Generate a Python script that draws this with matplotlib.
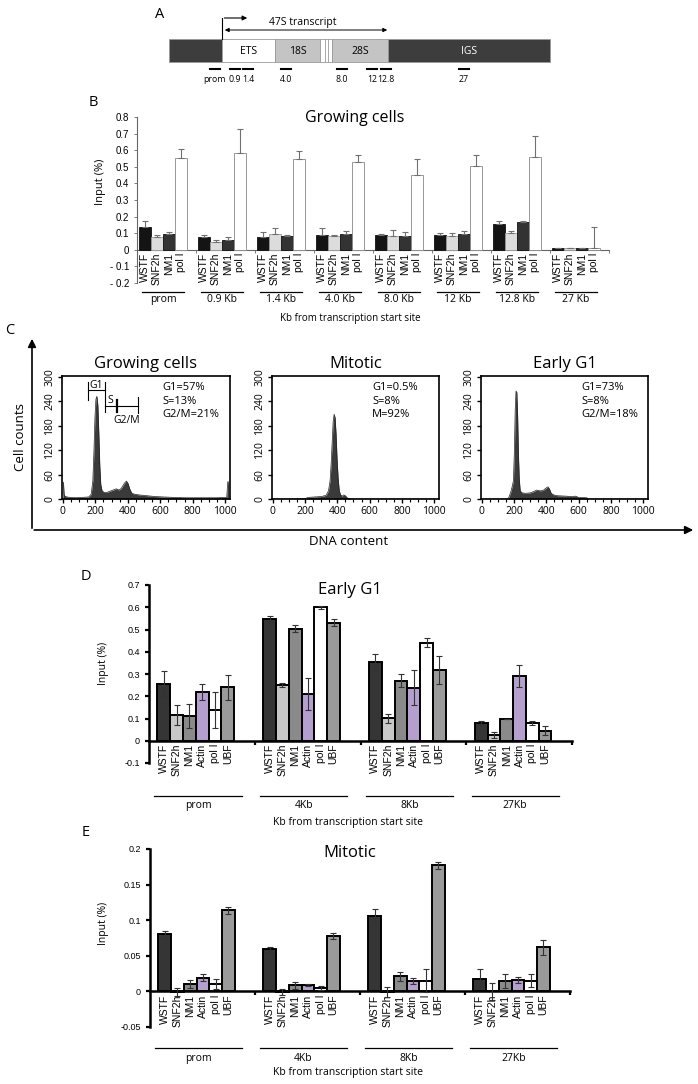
import numpy as np
import matplotlib
matplotlib.use("Agg")
import matplotlib.pyplot as plt
from matplotlib.patches import Rectangle
from matplotlib.ticker import MultipleLocator
from matplotlib.transforms import offset_copy

plt.rcParams['font.family'] = ['Open Sans', 'DejaVu Sans']
ARIAL = ['Liberation Sans', 'DejaVu Sans']

# ---------------- data ----------------
# A: rDNA repeat schematic (x in figure pixels)
rdna_names = ['', 'ETS', '18S', '', '28S', 'IGS']
rdna_starts = [169, 222, 275, 320, 332, 388]
rdna_ends = [222, 275, 320, 332, 388, 550]
rdna_fill = ['#3d3d3d', 'white', '#c4c4c4', 'white', '#c4c4c4', '#3d3d3d']
amp_names = ['prom', '0.9', '1.4', '4.0', '8.0', '12', '12.8', '27']
amp_pos = [215, 235, 248, 286, 342, 372, 386, 464]

# B: growing cells ChIP
b_groups = ['prom', '0.9 Kb', '1.4 Kb', '4.0 Kb', '8.0 Kb', '12 Kb', '12.8 Kb', '27 Kb']
b_names = ['WSTF', 'SNF2h', 'NM1', 'pol I']
b_wstf = [0.135, 0.075, 0.075, 0.087, 0.088, 0.088, 0.157, 0.012]
b_wstf_err = [0.04, 0.016, 0.032, 0.045, 0.006, 0.012, 0.016, 0.0]
b_snf2h = [0.076, 0.048, 0.095, 0.086, 0.084, 0.084, 0.100, 0.010]
b_snf2h_err = [0.012, 0.014, 0.037, 0.002, 0.034, 0.016, 0.012, 0.0]
b_nm1 = [0.096, 0.060, 0.084, 0.094, 0.084, 0.098, 0.165, 0.012]
b_nm1_err = [0.014, 0.018, 0.004, 0.020, 0.022, 0.014, 0.008, 0.0]
b_pol1 = [0.553, 0.586, 0.550, 0.528, 0.450, 0.502, 0.558, 0.012]
b_pol1_err = [0.052, 0.140, 0.043, 0.042, 0.096, 0.068, 0.127, 0.123]
b_yticklabels = ['- 0.2', '- 0.1', '0', '0.1', '0.2', '0.3', '0.4', '0.5', '0.6', '0.7', '0.8']

# C: FACS profiles (DNA content channel, cell counts)
grow_x = [0, 4, 8, 15, 40, 80, 120, 160, 175, 185, 192, 198, 204, 210, 216, 222, 228, 234, 242,
          255, 270, 290, 310, 330, 345, 360, 372, 382, 392, 402, 412, 425, 440, 470, 520, 570,
          620, 680, 750, 850, 950, 1010, 1016, 1022]
grow_y = [42, 40, 10, 6, 4, 3, 4, 5, 12, 45, 120, 200, 245, 252, 230, 160, 80, 35, 20,
          16, 16, 19, 22, 25, 22, 26, 34, 40, 44, 38, 25, 14, 12, 10, 8, 6,
          5, 4, 3, 3, 3, 4, 42, 42]
mit_x = [0, 100, 200, 220, 260, 300, 330, 345, 355, 362, 368, 374, 380, 386, 392, 398, 405,
         412, 420, 430, 440, 450, 460, 475, 500, 1024]
mit_y = [0, 0, 1, 4, 5, 6, 9, 20, 45, 90, 140, 190, 208, 200, 160, 100, 50,
         20, 10, 7, 10, 8, 3, 1, 0, 0]
eg1_x = [0, 150, 165, 178, 188, 196, 202, 207, 212, 217, 222, 227, 232, 238, 250, 270, 300,
         320, 340, 360, 380, 395, 410, 420, 430, 445, 470, 520, 560, 580, 600, 650, 665, 1024]
eg1_y = [0, 0, 2, 15, 30, 45, 120, 220, 265, 262, 205, 110, 50, 20, 15, 14, 15,
         18, 22, 20, 21, 26, 30, 24, 14, 10, 8, 7, 6, 7, 4, 3, 0, 0]
facs_titles = ['Growing cells', 'Mitotic', 'Early G1']
facs_stats = ['G1=57%\nS=13%\nG2/M=21%', 'G1=0.5%\nS=8%\nM=92%', 'G1=73%\nS=8%\nG2/M=18%']

# D / E: Early G1 and mitotic ChIP
de_groups = ['prom', '4Kb', '8Kb', '27Kb']
de_names = ['WSTF', 'SNF2h', 'NM1', 'Actin', 'pol I', 'UBF']
d_vals = [[0.255, 0.547, 0.356, 0.081],   # WSTF
          [0.116, 0.250, 0.102, 0.026],   # SNF2h
          [0.111, 0.504, 0.270, 0.099],   # NM1
          [0.220, 0.210, 0.239, 0.291],   # Actin
          [0.138, 0.599, 0.441, 0.080],   # pol I
          [0.240, 0.530, 0.317, 0.045]]   # UBF
d_errs = [[0.060, 0.013, 0.035, 0.010],
          [0.045, 0.010, 0.020, 0.012],
          [0.054, 0.016, 0.030, 0.0],
          [0.037, 0.070, 0.080, 0.048],
          [0.080, 0.007, 0.020, 0.010],
          [0.056, 0.015, 0.063, 0.020]]
e_vals = [[0.080, 0.059, 0.106, 0.017],
          [-0.001, -0.0005, -0.001, 0.0],
          [0.0098, 0.0089, 0.021, 0.015],
          [0.019, 0.0089, 0.015, 0.0164],
          [0.0098, 0.005, 0.015, 0.015],
          [0.114, 0.0776, 0.177, 0.0617]]
e_errs = [[0.005, 0.004, 0.010, 0.014],
          [0.006, 0.004, 0.007, 0.012],
          [0.0056, 0.005, 0.006, 0.010],
          [0.005, 0.002, 0.004, 0.004],
          [0.007, 0.003, 0.016, 0.009],
          [0.005, 0.004, 0.005, 0.010]]
d_yticklabels = ['-0.1', '0', '0.1', '0.2', '0.3', '0.4', '0.5', '0.6', '0.7']
e_yticklabels = ['-0.05', '0', '0.05', '0.1', '0.15', '0.2']

# ---------------- figure ----------------
W, H = 698, 1084
fig = plt.figure(figsize=(W / 100, H / 100), dpi=100)


def px_axes(l, t, r, b):
    return fig.add_axes([l / W, 1 - b / H, (r - l) / W, (b - t) / H])


def ft(x, y, s, **kw):
    fig.text(x / W, 1 - y / H, s, **kw)


# overlay in pixel coordinates for schematic / arrows
ov = fig.add_axes([0, 0, 1, 1])
ov.set_xlim(0, W)
ov.set_ylim(H, 0)
ov.axis('off')

# ---- A
for name, s, e, c in zip(rdna_names, rdna_starts, rdna_ends, rdna_fill):
    ov.add_patch(Rectangle((s, 39), e - s, 23, facecolor=c, edgecolor='#9a9a9a', lw=0.6))
    if name:
        ov.text((s + e) / 2, 51, name, ha='center', va='center', fontsize=7.5,
                color='white' if c == '#3d3d3d' else 'black')
ov.plot([325, 325], [39, 62], color='#9a9a9a', lw=0.6)
ov.plot([328, 328], [39, 62], color='#9a9a9a', lw=0.6)
ov.plot([222, 222], [39, 18], color='k', lw=0.8)
ov.annotate('', xy=(250, 18), xytext=(221.6, 18),
            arrowprops=dict(arrowstyle='-|>', color='k', lw=0.8, mutation_scale=7))
ov.annotate('', xy=(390, 30), xytext=(222, 30),
            arrowprops=dict(arrowstyle='<|-|>', color='k', lw=0.7, mutation_scale=6))
ov.text(303, 22, '47S transcript', ha='center', va='center', fontsize=7.5)
for name, p in zip(amp_names, amp_pos):
    ov.plot([p - 5, p + 5], [69, 69], color='k', lw=1.5)
    ov.text(p, 79, name, ha='center', va='center', fontsize=6.3)


def bar_panel(ax, groups, names, vals, errs, colors, edges, off, w, lw,
              ecolor, both, name_fs, line_dy, label_dy, line_pad, ngroups_x):
    n = len(groups)
    for j in range(len(names)):
        x = np.arange(n) + off + (j + 0.5) * w
        err = np.array(errs[j])
        yerr = err if both else [np.zeros(n), err]
        ax.bar(x, vals[j], width=w, color=colors[j], edgecolor=edges[j], linewidth=lw,
               yerr=yerr, error_kw=dict(ecolor=ecolor, elinewidth=0.8, capsize=2,
                                        capthick=0.8), zorder=3)
        for xi in x:
            ax.annotate(names[j], (xi, 0), xytext=(0, -3), textcoords='offset pixels',
                        rotation=90, ha='center', va='top', fontsize=name_fs,
                        family=ARIAL, annotation_clip=False)
    tr = offset_copy(ax.transData, fig=fig, y=-line_dy, units='dots')
    for i, g in enumerate(groups):
        x0 = i + off + line_pad[0]
        x1 = i + off + len(names) * w + line_pad[1]
        ax.plot([x0, x1], [0, 0], color='k', lw=0.9, transform=tr, clip_on=False)
        ax.annotate(g, ((x0 + x1) / 2, 0), xytext=(0, -label_dy), textcoords='offset pixels',
                    ha='center', va='center', fontsize=7.5, annotation_clip=False)
    ax.set_xlim(0, ngroups_x)
    ax.spines['top'].set_visible(False)
    ax.spines['right'].set_visible(False)
    ax.spines['bottom'].set_position(('data', 0))
    ax.set_xticks(np.arange(1, n + 1))
    ax.tick_params(axis='x', labelbottom=False, direction='out', length=3)
    ax.patch.set_alpha(0)


# ---- B
ax_b = px_axes(137, 117, 609, 283)
bar_panel(ax_b, b_groups, b_names,
          [b_wstf, b_snf2h, b_nm1, b_pol1], [b_wstf_err, b_snf2h_err, b_nm1_err, b_pol1_err],
          ['#141414', '#dcdcdc', '#333333', 'white'], ['#111', '#999', '#111', '#888'],
          0.03, 0.205, 0.6, '#707070', False, 7.5, 42, 50, (0.06, -0.06), 7.92)
ax_b.set_ylim(-0.2, 0.8)
ax_b.set_yticks(np.arange(-0.2, 0.81, 0.1))
ax_b.set_yticklabels(b_yticklabels, family=ARIAL, fontsize=7)
for sp in ['left', 'bottom']:
    ax_b.spines[sp].set_color('#666')
    ax_b.spines[sp].set_linewidth(0.8)
ax_b.tick_params(axis='both', colors='#666', length=2, width=0.6, labelcolor='k')
ft(355, 118, 'Growing cells', ha='center', va='center', fontsize=11.5)
ft(100, 182, 'Input (%)', ha='center', va='center', rotation=90, fontsize=8)
ft(350, 318, 'Kb from transcription start site', ha='center', va='center', fontsize=7)

# ---- C
facs_axes = [px_axes(62, 376, 230, 499), px_axes(272, 376, 439, 499), px_axes(481, 376, 648, 499)]
facs_data = [(grow_x, grow_y), (mit_x, mit_y), (eg1_x, eg1_y)]
for ax, (hx, hy), title, stats in zip(facs_axes, facs_data, facs_titles, facs_stats):
    ax.fill_between(hx, hy, color='#3a3a3a', lw=0)
    ax.plot(hx, hy, color='#222', lw=0.5)
    ax.set_xlim(-5, 1030)
    ax.set_ylim(0, 302)
    ax.set_xticks(np.arange(0, 1001, 200))
    ax.xaxis.set_minor_locator(MultipleLocator(50))
    ax.set_yticks(np.arange(0, 301, 60))
    ax.tick_params(axis='both', which='major', direction='out', length=3, width=1, labelsize=7.5, pad=2)
    ax.tick_params(axis='x', which='minor', direction='out', length=2, width=0.8)
    ax.tick_params(axis='y', labelrotation=90)
    for lab in ax.get_yticklabels():
        lab.set_va('center')
    for sp in ax.spines.values():
        sp.set_linewidth(1.2)
    ax.set_title(title, fontsize=12, pad=6)
    ax.text(615, 288, stats, ha='left', va='top', fontsize=8, linespacing=1.35)

# gates on the growing profile
g_ax = facs_axes[0]
g_ax.plot([155, 258], [267, 267], color='k', lw=0.8)
g_ax.plot([155, 155], [242, 287], color='k', lw=0.8)
g_ax.plot([258, 258], [242, 287], color='k', lw=0.8)
g_ax.text(207, 279, 'G1', ha='center', va='center', fontsize=7.5)
g_ax.plot([258, 462], [228, 228], color='k', lw=0.8)
g_ax.plot([258, 258], [214, 241], color='k', lw=0.8)
g_ax.plot([333, 333], [213, 243], color='k', lw=1.6)
g_ax.plot([462, 462], [212, 250], color='k', lw=0.8)
g_ax.text(293, 243, 'S', ha='center', va='center', fontsize=7.5)
g_ax.text(395, 192, 'G2/M', ha='center', va='center', fontsize=7.5)

ov.annotate('', xy=(32, 336), xytext=(32, 531),
            arrowprops=dict(arrowstyle='-|>', color='k', lw=1.2, mutation_scale=12))
ov.annotate('', xy=(696, 530), xytext=(31.4, 530),
            arrowprops=dict(arrowstyle='-|>', color='k', lw=1.2, mutation_scale=12))
ft(20, 437, 'Cell counts', ha='center', va='center', rotation=90, fontsize=9.5)
ft(349, 541, 'DNA content', ha='center', va='center', fontsize=9.5)

# ---- D / E
de_colors = ['#353535', '#c8c8c8', '#8a8a8a', '#b49fcf', 'white', '#9a9a9a']
for box, vals, errs, ylim, yt, ytl, title, title_y, ylab_y, xlab_y in [
        ((149, 585, 572, 763), d_vals, d_errs, (-0.1, 0.7), np.arange(-0.1, 0.71, 0.1),
         d_yticklabels, 'Early G1', 590, 663, 822),
        ((150, 849, 570, 1027), e_vals, e_errs, (-0.05, 0.2), np.arange(-0.05, 0.201, 0.05),
         e_yticklabels, 'Mitotic', 853, 923, 1073)]:
    ax = px_axes(*box)
    dy = 55 if title == 'Early G1' else 57
    bar_panel(ax, de_groups, de_names, vals, errs, de_colors, ['k'] * 6,
              0.08, 0.121, 1.4, '#333', True, 7.5, dy, dy + 10, (-0.03, 0.07), 4)
    ax.set_ylim(*ylim)
    ax.set_yticks(yt)
    ax.set_yticklabels(ytl, family=ARIAL, fontsize=6.5)
    for sp in ['left', 'bottom']:
        ax.spines[sp].set_linewidth(1.8)
    ax.tick_params(axis='both', length=3, width=1.6)
    ft(350, title_y, title, ha='center', va='center', fontsize=12)
    ft(103, ylab_y, 'Input (%)', ha='center', va='center', rotation=90, fontsize=7.5)
    ft(348, xlab_y, 'Kb from transcription start site', ha='center', va='center', fontsize=7.5)

# panel letters
for letter, (x, y) in zip('ABCDE', [(160, 14), (93, 103), (10, 331), (86, 577), (86, 833)]):
    ft(x, y, letter, ha='center', va='center', fontsize=10.5)

fig.savefig('out.png', dpi=100)
